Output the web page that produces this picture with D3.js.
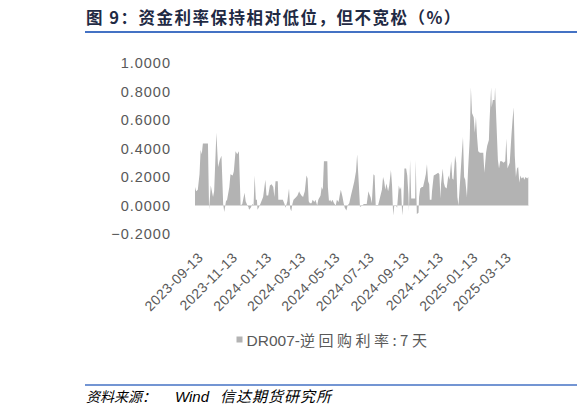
<!DOCTYPE html>
<html>
<head>
<meta charset="utf-8">
<script src="https://cdn.jsdelivr.net/npm/d3@7"></script>
<style>
  body { margin: 0; background: #fff; }
  svg { display: block; }
</style>
</head>
<body>
<div id="chart"></div>
<script>
const dates = [
  "2023-09-13","2023-09-15","2023-09-18","2023-09-21","2023-09-23","2023-09-25","2023-09-27","2023-10-06","2023-10-08","2023-10-11",
  "2023-10-15","2023-10-17","2023-10-21","2023-10-24","2023-10-27","2023-10-30","2023-11-01","2023-11-02","2023-11-04","2023-11-07",
  "2023-11-09","2023-11-13","2023-11-15","2023-11-19","2023-11-21","2023-11-24","2023-11-27","2023-11-30","2023-12-01","2023-12-03",
  "2023-12-06","2023-12-10","2023-12-12","2023-12-15","2023-12-17","2023-12-18","2023-12-21","2023-12-24","2023-12-26","2023-12-28",
  "2023-12-30","2024-01-01","2024-01-02","2024-01-04","2024-01-06","2024-01-09","2024-01-12","2024-01-16","2024-01-18","2024-01-21",
  "2024-01-24","2024-01-27","2024-01-30","2024-02-01","2024-02-03","2024-02-07","2024-02-08","2024-02-16","2024-02-19","2024-02-21",
  "2024-02-24","2024-02-27","2024-02-29","2024-03-02","2024-03-04","2024-03-06","2024-03-10","2024-03-13","2024-03-16","2024-03-17",
  "2024-03-20","2024-03-23","2024-03-26","2024-03-29","2024-03-31","2024-04-02","2024-04-04","2024-04-07","2024-04-09","2024-04-12",
  "2024-04-14","2024-04-17","2024-04-19","2024-04-23","2024-04-25","2024-04-27","2024-04-29","2024-05-05","2024-05-06","2024-05-08",
  "2024-05-10","2024-05-12","2024-05-14","2024-05-17","2024-05-20","2024-05-22","2024-05-25","2024-05-27","2024-05-29","2024-06-01",
  "2024-06-03","2024-06-05","2024-06-08","2024-06-10","2024-06-13","2024-06-16","2024-06-19","2024-06-22","2024-06-25","2024-06-27",
  "2024-06-30","2024-07-02","2024-07-06","2024-07-09","2024-07-14","2024-07-17","2024-07-19","2024-07-21","2024-07-23","2024-07-26",
  "2024-07-28","2024-07-30","2024-08-03","2024-08-05","2024-08-10","2024-08-12","2024-08-14","2024-08-16","2024-08-18","2024-08-21",
  "2024-08-23","2024-08-26","2024-08-28","2024-08-30","2024-09-01","2024-09-04","2024-09-06","2024-09-09","2024-09-11","2024-09-13",
  "2024-09-15","2024-09-17","2024-09-19","2024-09-22","2024-09-24","2024-09-26","2024-09-27","2024-09-29","2024-10-01","2024-10-04",
  "2024-10-08","2024-10-09","2024-10-11","2024-10-14","2024-10-15","2024-10-17","2024-10-20","2024-10-22","2024-10-25","2024-10-27",
  "2024-10-29","2024-10-31","2024-11-02","2024-11-03","2024-11-06","2024-11-07","2024-11-10","2024-11-14","2024-11-18","2024-11-20",
  "2024-11-22","2024-11-23","2024-11-26","2024-11-28","2024-11-30","2024-12-03","2024-12-06","2024-12-08","2024-12-11","2024-12-13",
  "2024-12-15","2024-12-18","2024-12-20","2024-12-22","2024-12-24","2024-12-27","2024-12-30","2025-01-01","2025-01-03","2025-01-05",
  "2025-01-08","2025-01-10","2025-01-13","2025-01-15","2025-01-17","2025-01-20","2025-01-22","2025-01-24","2025-01-26","2025-01-28",
  "2025-01-31","2025-02-06","2025-02-08","2025-02-11","2025-02-13","2025-02-16","2025-02-17","2025-02-20","2025-02-21","2025-02-23",
  "2025-02-26","2025-02-27","2025-03-01","2025-03-04","2025-03-06","2025-03-08","2025-03-11","2025-03-14","2025-03-17","2025-03-19",
  "2025-03-21","2025-03-22","2025-03-25","2025-03-28","2025-03-30","2025-04-01","2025-04-03","2025-04-05","2025-04-07","2025-04-09",
  "2025-04-11","2025-04-13","2025-04-15","2025-04-18","2025-04-20","2025-04-22","2025-04-25","2025-04-27"
];
const spread = [
  0.13, 0.10, 0.11, 0.22, 0.39, 0.36, 0.435, 0.435, -0.03, 0.14,
  0.06, 0.10, 0.51, 0.27, 0.32, 0.35, 0.13, 0.01, -0.045, 0.03,
  0.04, 0.13, 0.22, 0.21, 0.24, 0.38, 0.36, 0.38, 0.25, 0.00,
  0.01, 0.09, 0.03, 0.00, -0.01, -0.03, -0.015, 0.01, 0.00, 0.21,
  0.04, 0.04, -0.03, -0.015, 0.00, 0.03, 0.06, 0.18, 0.07, 0.07,
  0.14, 0.15, 0.13, 0.06, 0.17, 0.17, 0.04, 0.04, 0.01, -0.015,
  0.03, 0.12, -0.02, -0.04, 0.01, 0.04, 0.056, 0.07, 0.10, 0.09,
  0.07, 0.06, 0.10, 0.21, 0.19, 0.03, 0.015, 0.015, 0.04, 0.025,
  0.04, 0.00, 0.04, 0.07, 0.13, 0.11, 0.31, 0.31, 0.13, 0.03,
  0.04, 0.025, 0.04, 0.015, 0.00, 0.04, 0.025, 0.07, 0.11, 0.06,
  0.015, -0.015, -0.035, 0.00, 0.015, 0.07, 0.12, 0.17, 0.24, 0.36,
  0.15, -0.01, 0.00, 0.01, 0.01, 0.10, 0.075, 0.056, 0.015, 0.22,
  0.21, 0.00, 0.00, 0.03, 0.11, 0.20, 0.17, 0.11, 0.155, 0.10,
  0.14, 0.25, 0.14, -0.07, 0.00, 0.00, -0.015, 0.14, 0.11, 0.13,
  -0.07, 0.01, 0.26, 0.26, 0.21, 0.08, -0.04, 0.32, 0.05, 0.05,
  0.05, 0.32, -0.06, -0.05, 0.06, 0.12, 0.13, 0.13, 0.18, 0.22,
  0.29, 0.17, 0.15, 0.04, 0.04, 0.10, 0.21, 0.22, 0.23, 0.22,
  0.05, 0.15, 0.26, 0.16, 0.13, 0.12, 0.21, 0.18, 0.31, 0.19,
  0.18, 0.35, 0.30, 0.06, 0.00, 0.18, 0.37, 0.48, 0.20, 0.18,
  0.06, 0.25, 0.47, 0.83, 0.65, 0.62, 0.51, 0.62, 0.48, 0.38,
  0.37, 0.37, 0.23, 0.37, 0.42, 0.46, 0.58, 0.83, 0.69, 0.74,
  0.74, 0.83, 0.62, 0.32, 0.26, 0.31, 0.31, 0.30, 0.31, 0.47,
  0.26, 0.27, 0.30, 0.49, 0.60, 0.69, 0.35, 0.20, 0.26, 0.27,
  0.16, 0.21, 0.19, 0.20, 0.18, 0.20, 0.19, 0.20
];
const xTickLabels = ["2023-09-13","2023-11-13","2024-01-13","2024-03-13","2024-05-13",
                     "2024-07-13","2024-09-13","2024-11-13","2025-01-13","2025-03-13"];
const yTickValues = [-0.2, 0, 0.2, 0.4, 0.6, 0.8, 1.0];
const seriesCode = "DR007-";
const seriesRest = "逆回购利率:7天";
const titleText = "图 9：资金利率保持相对低位，但不宽松（%）";

const width = 577, height = 416;
const plot = { left: 195, right: 528.3, top: 63, bottom: 234 };
const parse = d3.timeParse("%Y-%m-%d");
const data = dates.map((d, i) => ({ date: parse(d), value: spread[i] }));

const svg = d3.select("#chart").append("svg").attr("width", width).attr("height", height);
const latin = "'Liberation Sans', Arial, 'Noto Sans CJK SC', sans-serif";
const cjk = "'Noto Sans CJK SC', 'Liberation Sans', sans-serif";

// title + rule
svg.append("text").attr("x", 86).attr("y", 24)
  .attr("font-family", cjk).attr("font-size", 16.5).attr("font-weight", "bold")
  .attr("letter-spacing", 1.5)
  .attr("fill", "#1f2a44").text(titleText);
svg.append("line").attr("x1", 85).attr("x2", width).attr("y1", 32).attr("y2", 32)
  .attr("stroke", "#4472c4").attr("stroke-width", 2);

const x = d3.scaleTime().domain(d3.extent(data, d => d.date)).range([plot.left, plot.right]);
const y = d3.scaleLinear().domain([-0.2, 1.0]).range([plot.bottom, plot.top]);

const area = d3.area().x(d => x(d.date)).y0(y(0)).y1(d => y(d.value));
svg.append("path").datum(data).attr("d", area).attr("fill", "#b3b3b3");

// zero axis line
svg.append("line").attr("x1", plot.left).attr("x2", plot.right).attr("y1", y(0)).attr("y2", y(0))
  .attr("stroke", "#d9d9d9").attr("stroke-width", 1);

const yAxis = svg.append("g").attr("transform", `translate(171,0)`)
  .call(d3.axisLeft(y).tickValues(yTickValues).tickFormat(d3.format(".4f")).tickSize(0).tickPadding(0));
yAxis.select(".domain").remove();
yAxis.selectAll("text").attr("font-family", latin).attr("font-size", 14.5).attr("fill", "#595959")
  .attr("letter-spacing", 1);

const xAxis = svg.append("g").attr("transform", `translate(0,${plot.bottom})`)
  .call(d3.axisBottom(x).tickValues(xTickLabels.map(parse)).tickFormat(d3.timeFormat("%Y-%m-%d")).tickSize(0));
xAxis.select(".domain").remove();
xAxis.selectAll("text")
  .attr("font-family", latin).attr("font-size", 14).attr("fill", "#595959")
  .attr("letter-spacing", 0.4)
  .attr("x", 0).attr("y", 0).attr("dy", "0.35em")
  .attr("text-anchor", "end")
  .attr("transform", "translate(5,21) rotate(-45)");

// legend
svg.append("rect").attr("x", 236.5).attr("y", 336.5).attr("width", 6).attr("height", 6).attr("fill", "#b3b3b3");
const leg = svg.append("text").attr("x", 246.5).attr("y", 345.5).attr("fill", "#595959").attr("font-size", 15);
leg.append("tspan").attr("font-family", latin).attr("font-size", 15.5).text(seriesCode);
leg.append("tspan").attr("font-family", cjk).attr("letter-spacing", 3.5).text(seriesRest);

// source
svg.append("line").attr("x1", 85).attr("x2", width).attr("y1", 385).attr("y2", 385)
  .attr("stroke", "#4472c4").attr("stroke-width", 1.5);
const src = svg.append("text").attr("y", 402).attr("font-size", 14).attr("fill", "#000").attr("font-style", "italic");
src.append("tspan").attr("x", 86).attr("font-family", cjk).text("资料来源：");
src.append("tspan").attr("x", 175).attr("font-family", latin).attr("font-size", 15).text("Wind");
src.append("tspan").attr("x", 220).attr("font-family", cjk).attr("font-size", 15).attr("letter-spacing", 1).text("信达期货研究所");
</script>
</body>
</html>
